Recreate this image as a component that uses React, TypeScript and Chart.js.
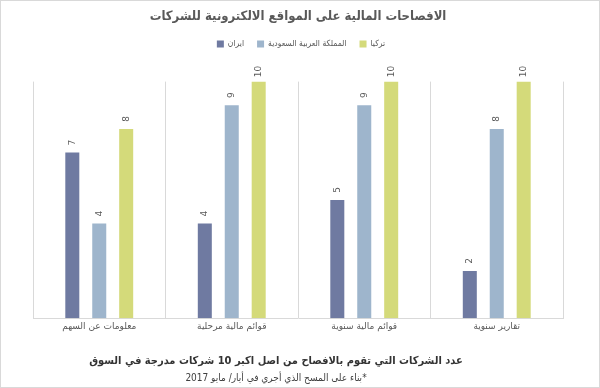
import React, { useEffect, useRef } from 'react';
import { Chart, registerables } from 'chart.js';

Chart.register(...registerables);

const categories = ['معلومات عن السهم', 'قوائم مالية مرحلية', 'قوائم مالية سنوية', 'تقارير سنوية'];
const seriesNames = ['ايران', 'المملكة العربية السعودية', 'تركيا'];
const iranValues = [7, 4, 5, 2];
const saudiValues = [4, 9, 9, 8];
const turkeyValues = [8, 10, 10, 10];
const yMax = 10;
const chartTitle = 'الافصاحات المالية على المواقع الالكترونية للشركات';
const footTitle = 'عدد الشركات التي تقوم بالافصاح من اصل اكبر 10 شركات مدرجة في السوق';
const footNote = '*بناء على المسح الذي أجري في أيار/ مايو 2017';

const colors = ['#6f7aa1', '#9eb5cc', '#d4da7a'];
const FONT = '"DejaVu Sans", sans-serif';
const CFONT = '"DejaVu Sans Condensed", "DejaVu Sans", sans-serif';

const valueLabels = {
  id: 'valueLabels',
  afterDatasetsDraw(chart: any) {
    const ctx = chart.ctx;
    ctx.save();
    ctx.font = `9px ${FONT}`;
    ctx.fillStyle = '#595959';
    ctx.textAlign = 'center';
    ctx.textBaseline = 'middle';
    chart.data.datasets.forEach((ds: any, i: number) => {
      const meta = chart.getDatasetMeta(i);
      meta.data.forEach((bar: any, j: number) => {
        const { x, y } = bar.getProps(['x', 'y'], true);
        ctx.save();
        ctx.translate(x, y - 10);
        ctx.rotate(-Math.PI / 2);
        ctx.fillText(String(ds.data[j]), 0, 0);
        ctx.restore();
      });
    });
    ctx.restore();
  },
};

const customLegend = {
  id: 'customLegend',
  afterDraw(chart: any) {
    const ctx = chart.ctx;
    ctx.save();
    ctx.font = `8.5px ${CFONT}`;
    ctx.textBaseline = 'middle';
    ctx.textAlign = 'left';
    const box = 7;
    const gap = 4;
    const spacing = 13;
    const items = chart.data.datasets.map((ds: any) => ({
      text: ds.label,
      color: ds.backgroundColor,
      w: box + gap + ctx.measureText(ds.label).width,
    }));
    const total = items.reduce((s: number, it: any) => s + it.w, 0) + spacing * (items.length - 1);
    let x = 300 - total / 2;
    const y = 43;
    items.forEach((it: any) => {
      ctx.fillStyle = it.color;
      ctx.fillRect(x, y - box / 2, box, box);
      ctx.fillStyle = '#595959';
      ctx.fillText(it.text, x + box + gap, y);
      x += it.w + spacing;
    });
    ctx.restore();
  },
};

const footer = {
  id: 'footer',
  afterDraw(chart: any) {
    const ctx = chart.ctx;
    ctx.save();
    ctx.direction = 'rtl';
    ctx.textAlign = 'center';
    ctx.textBaseline = 'middle';
    ctx.fillStyle = '#333333';
    ctx.font = `bold 11px ${CFONT}`;
    ctx.fillText(footTitle, 275, 360);
    ctx.fillStyle = '#404040';
    ctx.font = `10px ${CFONT}`;
    ctx.fillText(footNote, 275, 377);
    ctx.restore();
  },
};

export default function App() {
  const ref = useRef<HTMLCanvasElement | null>(null);
  useEffect(() => {
    if (!ref.current) return;
    const chart = new Chart(ref.current, {
      type: 'bar',
      data: {
        labels: categories,
        datasets: [
          { label: seriesNames[0], data: iranValues, backgroundColor: colors[0] },
          { label: seriesNames[1], data: saudiValues, backgroundColor: colors[1] },
          { label: seriesNames[2], data: turkeyValues, backgroundColor: colors[2] },
        ].map((d) => ({ ...d, categoryPercentage: 0.61, barPercentage: 0.52 })),
      },
      options: {
        responsive: false,
        animation: false,
        layout: { padding: { left: 32, right: 36, top: 0, bottom: 52 } },
        plugins: {
          title: {
            display: true,
            text: chartTitle,
            color: '#595959',
            font: { family: CFONT, size: 13, weight: 'bold' },
            padding: { top: 8, bottom: 57 },
          },
          legend: { display: false },
          tooltip: { enabled: false },
        },
        scales: {
          x: {
            grid: { display: true, offset: true, color: '#d9d9d9', drawTicks: false },
            border: { display: true, color: '#d9d9d9' },
            ticks: { color: '#595959', font: { family: FONT, size: 9 }, padding: 3, maxRotation: 0 },
          },
          y: {
            display: false,
            min: 0,
            max: yMax,
          },
        },
      },
      plugins: [valueLabels, customLegend, footer],
    });
    return () => chart.destroy();
  }, []);
  return (
    <div
      style={{
        position: 'absolute',
        left: 0,
        top: 0,
        width: 600,
        height: 388,
        boxSizing: 'border-box',
        border: '1px solid #d9d9d9',
        background: '#fff',
      }}
    >
      <canvas ref={ref} width={598} height={386} style={{ display: 'block' }} />
    </div>
  );
}
